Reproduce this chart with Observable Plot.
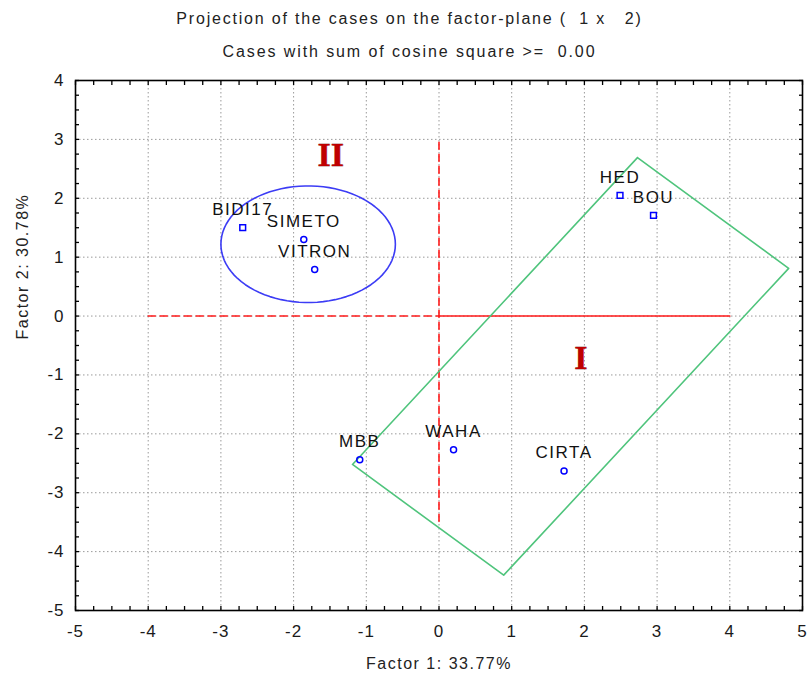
<!DOCTYPE html>
<html>
<head>
<meta charset="utf-8">
<script src="https://cdn.jsdelivr.net/npm/d3@7"></script>
<script src="https://cdn.jsdelivr.net/npm/@observablehq/plot@0.6"></script>
<style>
  body { margin: 0; background: #fff; font-family: "Liberation Sans", Arial, sans-serif; }
  #wrap { width: 807px; }
  .t1 { height: 38px; display: flex; align-items: center; justify-content: center; font-size: 16px; letter-spacing: 1.8px; color: #222; padding-left: 12px; }
  .t2 { height: 28px; display: flex; align-items: center; justify-content: center; font-size: 16px; letter-spacing: 1.9px; color: #222; padding-left: 12px; }
</style>
</head>
<body>
<div id="wrap">
  <div class="t1">Projection of the cases on the factor-plane (&nbsp; 1 x &nbsp; 2)</div>
  <div class="t2">Cases with sum of cosine square &gt;= &nbsp;0.00</div>
  <div id="chart"></div>
</div>
<script>
// ---- data ----
const caseNames = ["BIDI17", "SIMETO", "VITRON", "HED", "BOU", "MBB", "WAHA", "CIRTA"];
const factor1   = [-2.70, -1.86, -1.71, 2.49, 2.95, -1.09, 0.20, 1.72];
const factor2   = [ 1.50,  1.30,  0.79, 2.05, 1.71, -2.44, -2.27, -2.63];
const markerShape = ["square", "circle", "circle", "square", "square", "circle", "circle", "circle"];

// group I outline (rotated rectangle) vertices
const groupIX = [2.73, 4.81, 0.89, -1.19];
const groupIY = [2.69, 0.81, -4.40, -2.52];

// group II ellipse: center and radii (factor units)
const groupIIEllipse = [-1.80, 1.22, 1.20, 0.99];

// quadrant lines
const hDashedX = [-4, 0];
const hSolidX = [0, 4];
const vDashedY = [2.95, -3.5];

// group labels
const groupLabels = ["II", "I"];
const groupLabelX = [-1.49, 1.95];
const groupLabelY = [2.73, -0.72];

const majorTicks = [-5, -4, -3, -2, -1, 0, 1, 2, 3, 4, 5];
const majorTicksY = [-5, -4, -3, -2, -1, 0, 1, 2, 3, 4];
const xLabel = "Factor 1: 33.77%";
const yLabel = "Factor 2: 30.78%";

// ---- build ----
const cases = caseNames.map((n, i) => ({name: n, x: factor1[i], y: factor2[i], shape: markerShape[i]}));
const poly = groupIX.map((x, i) => ({x, y: groupIY[i]}));
poly.push(poly[0]);
const [ecx, ecy, erx, ery] = groupIIEllipse;
const ellipse = d3.range(0, 361, 4).map(a => {
  const t = a * Math.PI / 180;
  return {x: ecx + erx * Math.cos(t), y: ecy + ery * Math.sin(t)};
});
const minorX = d3.range(-5, 5.001, 0.25);
const minorY = d3.range(-5, 4.001, 0.25);
const font = "Liberation Sans, Arial, sans-serif";

const chart = Plot.plot({
  width: 807,
  height: 616,
  marginTop: 14,
  marginBottom: 72,
  marginLeft: 75,
  marginRight: 5,
  style: {fontFamily: font, background: "#fff", letterSpacing: "1.5px"},
  x: {domain: [-5, 5]},
  y: {domain: [-5, 4]},
  marks: [
    Plot.gridX(majorTicks, {stroke: "#9a9a9a", strokeOpacity: 1, strokeDasharray: "1.5,2.5"}),
    Plot.gridY(majorTicksY, {stroke: "#9a9a9a", strokeOpacity: 1, strokeDasharray: "1.5,2.5"}),
    // minor inward ticks on all sides
    Plot.axisX({anchor: "bottom", ticks: minorX, tickSize: -4, tickFormat: () => "", stroke: "#000", strokeWidth: 1.3, label: null}),
    Plot.axisX({anchor: "top", ticks: minorX, tickSize: -4, tickFormat: () => "", stroke: "#000", strokeWidth: 1.3, label: null}),
    Plot.axisY({anchor: "left", ticks: minorY, tickSize: -4, tickFormat: () => "", stroke: "#000", strokeWidth: 1.3, label: null}),
    Plot.axisY({anchor: "right", ticks: minorY, tickSize: -4, tickFormat: () => "", stroke: "#000", strokeWidth: 1.3, label: null}),
    // labels
    Plot.axisX({anchor: "bottom", ticks: majorTicks, tickSize: 0, tickPadding: 14, tickFormat: d => String(d), fontSize: 17, fill: "#1a1a1a", label: null}),
    Plot.axisY({anchor: "left", ticks: majorTicksY, tickSize: 0, tickPadding: 11, tickFormat: d => String(d), fontSize: 17, fill: "#1a1a1a", label: null}),
    Plot.text([xLabel], {frameAnchor: "bottom", dy: 58, fontSize: 16, fill: "#222", text: d => d}),
    Plot.text([yLabel], {frameAnchor: "left", dx: -53, dy: -6, rotate: -90, fontSize: 16, fill: "#222", text: d => d}),
    // quadrant lines
    Plot.line(hDashedX.map(x => ({x, y: 0})), {x: "x", y: "y", stroke: "#ff1a1a", strokeWidth: 1.6, strokeDasharray: "7,5"}),
    Plot.line(hSolidX.map(x => ({x, y: 0})), {x: "x", y: "y", stroke: "#ff1a1a", strokeWidth: 1.6}),
    Plot.line(vDashedY.map(y => ({x: 0, y})), {x: "x", y: "y", stroke: "#ff1a1a", strokeWidth: 1.6, strokeDasharray: "7,5"}),
    // group outlines
    Plot.line(poly, {x: "x", y: "y", stroke: "#4fc47c", strokeWidth: 1.6}),
    Plot.line(ellipse, {x: "x", y: "y", stroke: "#3c3cf5", strokeWidth: 1.6}),
    // group labels
    Plot.text(groupLabels, {x: (d, i) => groupLabelX[i], y: (d, i) => groupLabelY[i], text: d => d,
      fontFamily: "Liberation Serif, Times New Roman, serif", fontWeight: "bold", fontSize: 34, fill: "#c00000", stroke: "#5a0000", strokeWidth: 0.4}),
    // cases
    Plot.dot(cases, {x: "x", y: "y", symbol: "shape", r: d => d.shape === "square" ? 4 : 3.4, stroke: "#0000ff", strokeWidth: 1.5, fill: "none"}),
    Plot.text(cases, {x: "x", y: "y", text: "name", dy: -18, fontSize: 17, fill: "#111", fontFamily: font}),
    Plot.frame({stroke: "#000", strokeWidth: 1.6})
  ]
});
// per-text letter spacing tweaks
d3.select(chart).selectAll("text").each(function() {
  const t = this.textContent;
  if (caseNames.includes(t)) this.setAttribute("letter-spacing", "1.5px");
  if (groupLabels.includes(t)) this.setAttribute("letter-spacing", "0px");
  if (/^-?\d$/.test(t)) this.setAttribute("letter-spacing", "1px");
});
document.getElementById("chart").appendChild(chart);
</script>
</body>
</html>
